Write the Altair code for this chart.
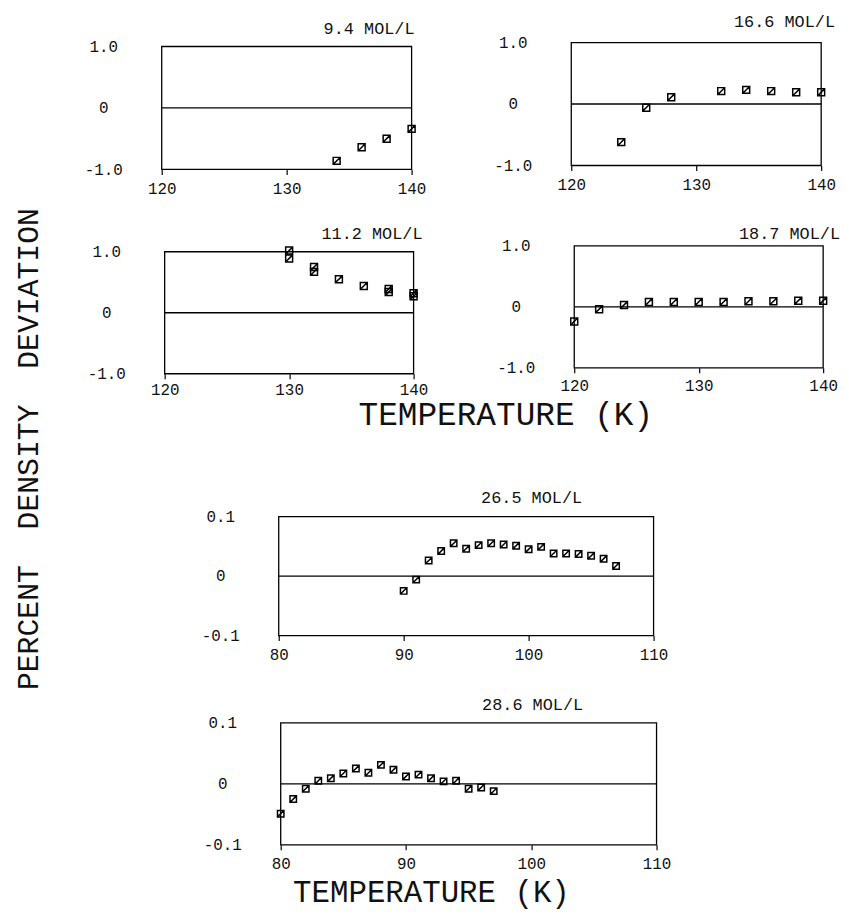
import altair as alt
import pandas as pd

W, H = 840, 908
FONT = "Liberation Mono"
INK = "#111111"
NB = "\u00a0"

# ---- data ----
titles = ["9.4 MOL/L", "16.6 MOL/L", "11.2 MOL/L", "18.7 MOL/L", "26.5 MOL/L", "28.6 MOL/L"]

t_94 = [134, 136, 138, 140]
d_94 = [-0.86, -0.64, -0.50, -0.34]

t_166 = [124, 126, 128, 132, 134, 136, 138, 140]
d_166 = [-0.62, -0.06, 0.11, 0.21, 0.23, 0.21, 0.19, 0.19]

t_112 = [130, 130, 132, 132, 134, 136, 138, 138, 140, 140]
d_112 = [1.02, 0.89, 0.75, 0.67, 0.55, 0.44, 0.39, 0.34, 0.32, 0.27]

t_187 = [120, 122, 124, 126, 128, 130, 132, 134, 136, 138, 140]
d_187 = [-0.24, -0.04, 0.03, 0.08, 0.08, 0.08, 0.08, 0.09, 0.09, 0.10, 0.10]

t_265 = [90, 91, 92, 93, 94, 95, 96, 97, 98, 99, 100, 101, 102, 103, 104, 105, 106, 107]
d_265 = [-0.025, -0.006, 0.026, 0.042, 0.055, 0.046, 0.052, 0.055, 0.053,
         0.051, 0.045, 0.049, 0.038, 0.038, 0.037, 0.034, 0.029, 0.017]

t_286 = [80, 81, 82, 83, 84, 85, 86, 87, 88, 89, 90, 91, 92, 93, 94, 95, 96, 97]
d_286 = [-0.049, -0.025, -0.008, 0.005, 0.009, 0.017, 0.025, 0.018, 0.031,
         0.023, 0.012, 0.015, 0.009, 0.004, 0.005, -0.008, -0.006, -0.012]

x_dom_hi = [120, 140]
x_ticks_hi = [120, 130, 140]
x_dom_lo = [80, 110]
x_ticks_lo = [80, 90, 100, 110]
y_dom_hi = [-1.0, 1.0]
y_ticks_hi = [-1.0, 0.0, 1.0]
y_dom_lo = [-0.1, 0.1]
y_ticks_lo = [-0.1, 0.0, 0.1]

x_title_mid = "TEMPERATURE (K)"
x_title_bot = "TEMPERATURE (K)"
y_title = "PERCENT" + NB + " DENSITY" + NB + " DEVIATION"

MARKER = "M-1,-1L1,-1L1,1L-1,1Z M-0.75,0.75L0.75,-0.75"
YLABEL = "datum.value == 0 ? '0' : (datum.value < 0 ? '-' : '') + format(abs(datum.value), '.1f')"


def panel(t, d, title, xdom, xticks, xr, ydom, yticks, yr, tx, ty, msize, lpad):
    xs = alt.Scale(domain=xdom, range=xr, nice=False, zero=False)
    ys = alt.Scale(domain=ydom, range=yr, nice=False, zero=False)
    xa = alt.Axis(orient="bottom", offset=yr[0] - H, values=xticks, format="d",
                  title=None, grid=False, domain=False, ticks=True, tickSize=5,
                  tickColor="black", tickWidth=1.2, labelPadding=lpad,
                  labelFont=FONT, labelFontSize=16, labelColor=INK,
                  labelFlush=False, labelOverlap=False)
    ya = alt.Axis(orient="left", offset=-xr[0], values=yticks, labelExpr=YLABEL,
                  title=None, grid=False, domain=False, ticks=False, tickSize=0,
                  labelPadding=59, labelAlign="center", labelBaseline="middle",
                  labelFont=FONT, labelFontSize=16, labelColor=INK,
                  labelOverlap=False)
    frame = pd.DataFrame({"x0": [xdom[0]], "x1": [xdom[1]],
                          "y0": [ydom[0]], "y1": [ydom[1]], "z": [0.0]})
    pts = pd.DataFrame({"T": t, "D": d})

    box = alt.Chart(frame).mark_rect(fillOpacity=0, stroke="black", strokeWidth=1.3).encode(
        x=alt.X("x0:Q", scale=xs, axis=xa), x2="x1:Q",
        y=alt.Y("y0:Q", scale=ys, axis=ya), y2="y1:Q")
    zero = alt.Chart(frame).mark_rule(color="black", strokeWidth=1.3).encode(
        x=alt.X("x0:Q", scale=xs, axis=xa), x2="x1:Q",
        y=alt.Y("z:Q", scale=ys, axis=ya))
    dots = alt.Chart(pts).mark_point(shape=MARKER, size=msize, filled=False,
                                     stroke="black", strokeWidth=1.5, opacity=1).encode(
        x=alt.X("T:Q", scale=xs, axis=xa),
        y=alt.Y("D:Q", scale=ys, axis=ya))
    ttl = alt.Chart(pd.DataFrame({"t": [title]})).mark_text(
        align="right", baseline="middle", font=FONT, fontSize=17, color=INK).encode(
        x=alt.value(tx), y=alt.value(ty), text="t:N")
    return alt.layer(box, zero, dots, ttl)


p1 = panel(t_94, d_94, titles[0], x_dom_hi, x_ticks_hi, [155, 407],
           y_dom_hi, y_ticks_hi, [159, 35], 410, 17, 49, 6)
p2 = panel(t_166, d_166, titles[1], x_dom_hi, x_ticks_hi, [568, 820],
           y_dom_hi, y_ticks_hi, [155, 31], 834, 10, 49, 6)
p3 = panel(t_112, d_112, titles[2], x_dom_hi, x_ticks_hi, [158, 409],
           y_dom_hi, y_ticks_hi, [365, 242], 418, 224, 49, 3)
p4 = panel(t_187, d_187, titles[3], x_dom_hi, x_ticks_hi, [571, 822],
           y_dom_hi, y_ticks_hi, [359, 236], 839, 224, 49, 5)
p5 = panel(t_265, d_265, titles[4], x_dom_lo, x_ticks_lo, [273, 651],
           y_dom_lo, y_ticks_lo, [629, 509], 579, 490, 42, 6)
p6 = panel(t_286, d_286, titles[5], x_dom_lo, x_ticks_lo, [275, 654],
           y_dom_lo, y_ticks_lo, [840, 717], 580, 699, 42, 6)

mid_title = alt.Chart(pd.DataFrame({"t": [x_title_mid]})).mark_text(
    align="center", baseline="middle", font=FONT, fontSize=33, color=INK).encode(
    x=alt.value(502), y=alt.value(407), text="t:N")
bot_title = alt.Chart(pd.DataFrame({"t": [x_title_bot]})).mark_text(
    align="center", baseline="middle", font=FONT, fontSize=31, color=INK).encode(
    x=alt.value(427), y=alt.value(889), text="t:N")
side_title = alt.Chart(pd.DataFrame({"t": [y_title]})).mark_text(
    align="center", baseline="middle", font=FONT, fontSize=30, angle=270, color=INK).encode(
    x=alt.value(21), y=alt.value(441), text="t:N")

chart = alt.layer(p1, p2, p3, p4, p5, p6, mid_title, bot_title, side_title).resolve_scale(
    x="independent", y="independent"
).properties(
    width=W, height=H, autosize="none", padding=0, background="white"
).configure_view(stroke=None)

chart.save("out.html", embed_options={"renderer": "svg", "actions": False})
